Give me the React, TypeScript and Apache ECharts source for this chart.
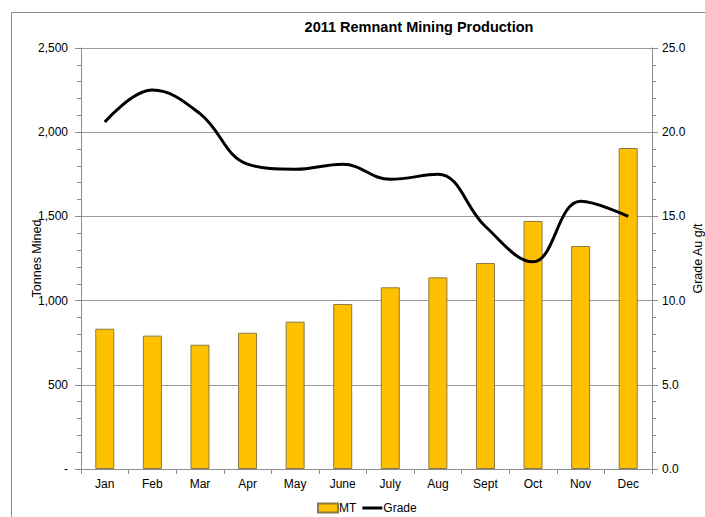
import React, { useEffect, useRef } from "react";
import * as echarts from "echarts";

const months = ["Jan", "Feb", "Mar", "Apr", "May", "June", "July", "Aug", "Sept", "Oct", "Nov", "Dec"];
const tonnes = [833, 792, 738, 809, 875, 980, 1079, 1138, 1223, 1473, 1324, 1906];
const grade = [20.6, 22.5, 21.1, 18.1, 17.8, 18.1, 17.2, 17.5, 14.4, 12.3, 15.9, 15.0];

const FONT = "Liberation Sans, Arial, sans-serif";

export default function App() {
  const ref = useRef<HTMLDivElement>(null);
  useEffect(() => {
    if (!ref.current) return;
    const chart = echarts.init(ref.current, null, { renderer: "svg" });
    chart.setOption({
      animation: false,
      backgroundColor: "#ffffff",
      textStyle: { fontFamily: FONT },
      title: {
        text: "2011 Remnant Mining Production",
        left: 414,
        top: 14,
        textAlign: "center",
        textStyle: { fontSize: 14.5, fontWeight: "bold", color: "#000", fontFamily: FONT },
      },
      graphic: [
        {
          type: "rect",
          left: 9,
          top: 10,
          shape: { x: 0, y: 0, width: 900, height: 700 },
          style: { fill: "none", stroke: "#8c8c8c", lineWidth: 1 },
          silent: true,
          z: -10,
        },
      ],
      legend: {
        bottom: -2,
        left: 312,
        itemWidth: 20,
        itemHeight: 9,
        itemGap: 6,
        textStyle: { fontSize: 12, color: "#000", fontFamily: FONT, padding: [0, 0, 0, -4] },
        data: [
          { name: "MT", icon: "rect" },
          { name: "Grade", icon: "path://M0,0 L20,0 L20,3 L0,3 Z", itemStyle: { color: "#000" } },
        ],
      },
      grid: { left: 81, right: 53, top: 48, bottom: 48, containLabel: false, outerBoundsMode: "none" },
      xAxis: {
        type: "category",
        data: months,
        axisLine: { lineStyle: { color: "#8c8c8c" } },
        axisTick: { show: true, length: 5, lineStyle: { color: "#8c8c8c" } },
        axisLabel: { color: "#000", fontSize: 12, fontFamily: FONT, margin: 9 },
      },
      yAxis: [
        {
          type: "value",
          min: 0,
          max: 2500,
          interval: 500,
          name: "Tonnes Mined",
          nameLocation: "middle",
          nameGap: 38,
          nameMoveOverlap: false,
          nameTextStyle: { color: "#000", fontSize: 12.5, fontFamily: FONT },
          axisLine: { show: true, lineStyle: { color: "#8c8c8c" } },
          axisTick: { show: true, length: 6, lineStyle: { color: "#8c8c8c" } },
          minorTick: { show: true, splitNumber: 5, length: 4, lineStyle: { color: "#8c8c8c" } },
          splitLine: { show: true, lineStyle: { color: "#9a9a9a", width: 1 } },
          axisLabel: {
            color: "#000",
            fontSize: 12,
            fontFamily: FONT,
            margin: 13,
            formatter: (v: number) => (v === 0 ? "-" : v.toLocaleString("en-US")),
          },
        },
        {
          type: "value",
          min: 0,
          max: 25,
          interval: 5,
          name: "Grade Au g/t",
          nameLocation: "middle",
          nameGap: 39,
          nameMoveOverlap: false,
          nameRotate: 90,
          nameTextStyle: { color: "#000", fontSize: 12.5, fontFamily: FONT },
          axisLine: { show: true, lineStyle: { color: "#8c8c8c" } },
          axisTick: { show: true, length: 6, lineStyle: { color: "#8c8c8c" } },
          minorTick: { show: true, splitNumber: 5, length: 4, lineStyle: { color: "#8c8c8c" } },
          splitLine: { show: false },
          axisLabel: {
            color: "#000",
            fontSize: 12,
            fontFamily: FONT,
            margin: 10,
            formatter: (v: number) => v.toFixed(1),
          },
        },
      ],
      series: [
        {
          name: "MT",
          type: "bar",
          data: tonnes,
          yAxisIndex: 0,
          barWidth: 19,
          itemStyle: { color: "#FFC000", borderColor: "#8a7a45", borderWidth: 1 },
        },
        {
          name: "Grade",
          type: "line",
          data: grade,
          yAxisIndex: 1,
          smooth: 0.4,
          symbol: "none",
          lineStyle: { color: "#000", width: 3 },
          itemStyle: { color: "#000" },
          z: 5,
        },
      ],
    });
    return () => chart.dispose();
  }, []);
  return (
    <div style={{ position: "absolute", left: 0, top: 0, width: 705, height: 517, overflow: "hidden" }}>
      <div ref={ref} style={{ width: 705, height: 517 }} />
    </div>
  );
}
